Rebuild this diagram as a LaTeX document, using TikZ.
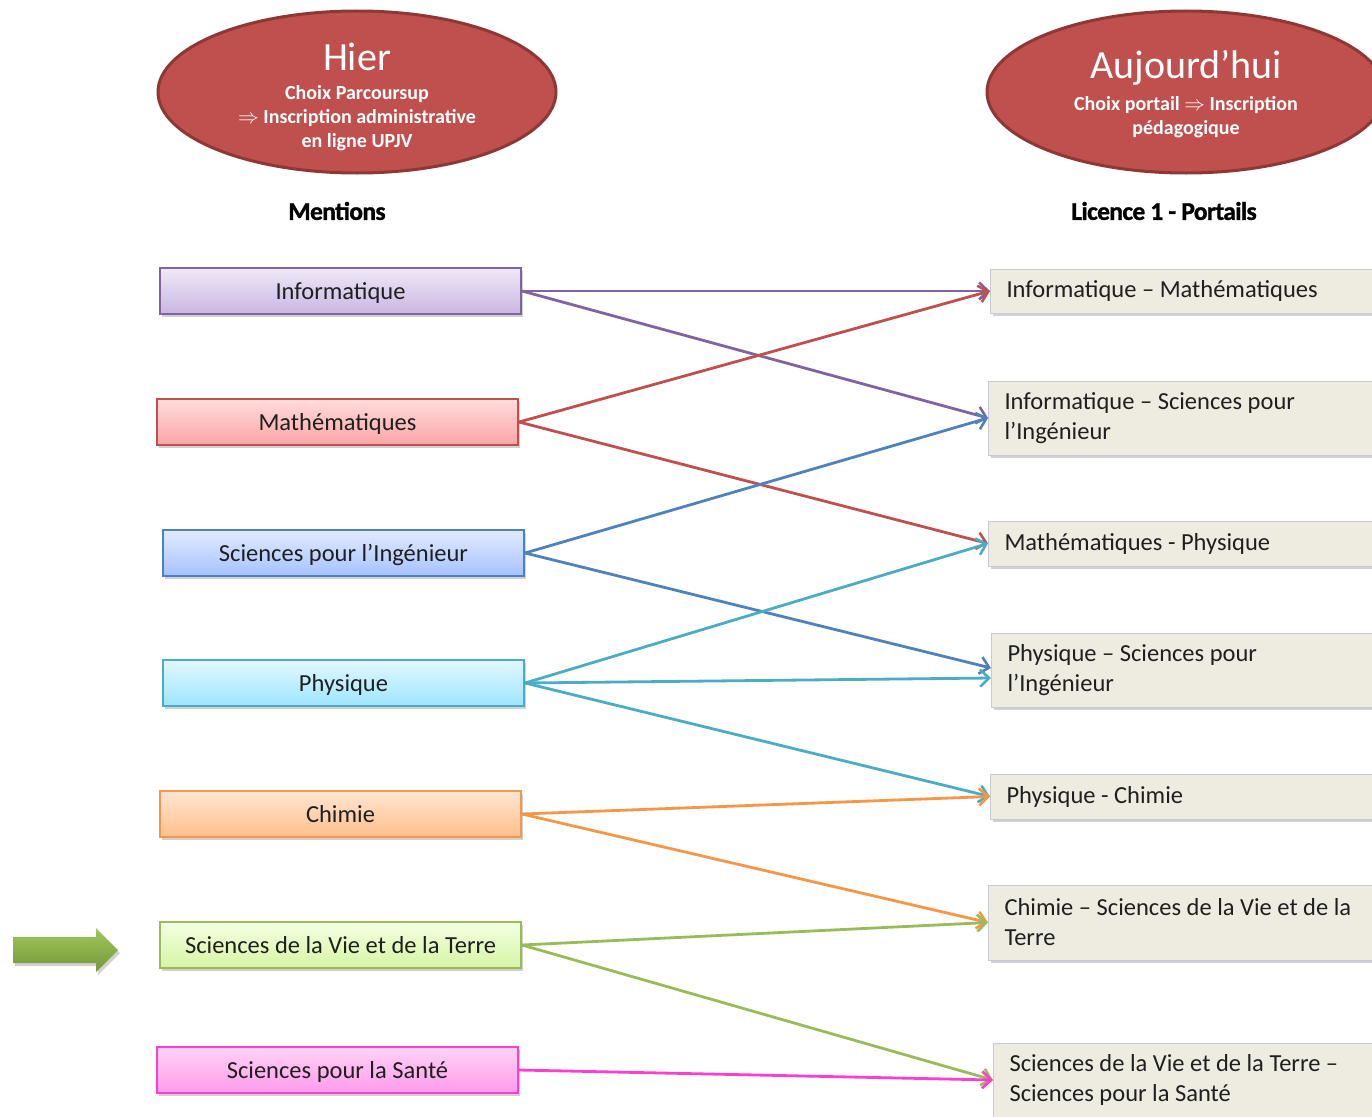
\documentclass[tikz,border=0pt]{standalone}
\usepackage{fontspec}
\setmainfont{Carlito}
\newfontfamily\hdrfont[FakeBold=1.2,LetterSpace=-2.5]{Carlito Bold}
\usetikzlibrary{shapes.geometric,arrows.meta,shadows,calc}
\definecolor{cpurple}{HTML}{8064A2}
\definecolor{cred}{HTML}{C0504D}
\definecolor{cblue}{HTML}{4F81BD}
\definecolor{ccyan}{HTML}{4BACC6}
\definecolor{corange}{HTML}{F79646}
\definecolor{cgreen}{HTML}{9BBB59}
\definecolor{cmag}{HTML}{FF3ECF}
\definecolor{beige}{HTML}{EEECE1}
\definecolor{rborder}{HTML}{C5CCD8}
\definecolor{ellfill}{HTML}{C0504D}
\definecolor{elldraw}{HTML}{8C3836}
\definecolor{ptop}{HTML}{EFE9F7}\definecolor{pbot}{HTML}{C8B6E2}
\definecolor{rtop}{HTML}{FFDCDC}\definecolor{rbot}{HTML}{FAA5A5}
\definecolor{btop}{HTML}{E1EBFF}\definecolor{bbot}{HTML}{A5C2FF}
\definecolor{ctop}{HTML}{E3F8FF}\definecolor{cbot}{HTML}{9DE5FF}
\definecolor{otop}{HTML}{FFE6D2}\definecolor{obot}{HTML}{FFBE8C}
\definecolor{gtop}{HTML}{F3FFE1}\definecolor{gbot}{HTML}{D6F5A5}
\definecolor{mtop}{HTML}{FFD2F5}\definecolor{mbot}{HTML}{FF9BEB}
\definecolor{atop}{HTML}{A0C85A}\definecolor{abot}{HTML}{76963A}
\tikzset{
  sh/.style={drop shadow={shadow xshift=2pt,shadow yshift=-3pt,opacity=0.3,fill=black!60}},
  lbox/.style n args={3}{draw=#1,top color=#2,bottom color=#3,line width=2pt,minimum width=361pt,minimum height=46pt,sh,
    font=\fontsize{24.5}{28}\selectfont,text=black!88,inner sep=0pt,text height=20pt,text depth=4pt},
  rbox/.style={draw=rborder,line width=1pt,fill=beige,anchor=west,sh,
    text width=400pt,align=flush left,inner xsep=16pt,inner ysep=0pt,
    font=\fontsize{24.5}{30}\selectfont,text=black!88},
  conn/.style={draw=#1,line width=2.8pt,-{Straight Barb[length=9pt,width=17pt,line width=2.6pt]}},
  ell/.style={ellipse,fill=ellfill,draw=elldraw,line width=3pt,minimum width=398pt,minimum height=162pt},
  etitle/.style={text=white,font=\fontsize{40}{44}\selectfont,inner sep=0pt},
  esub/.style={text=white,font=\bfseries\fontsize{20}{24}\selectfont,align=center,inner sep=0pt},
  hdr/.style={font=\hdrfont\fontsize{25.5}{28}\selectfont,text=black,inner sep=0pt}
}
\begin{document}
\begin{tikzpicture}[x=1pt,y=-1pt]
\useasboundingbox (0,0) rectangle (1372,1116);
% ellipses
\node[ell] (hier) at (357,92) {};
\node[etitle] (hiert) at (357,57) {Hier};
\node[esub] (hiers) at (357,118) {Choix Parcoursup\\$\Rightarrow$ Inscription administrative\\en ligne UPJV};
\node[ell] (auj) at (1186,92) {};
\node[etitle] (aujt) at (1186,68) {Aujourd’hui};
\node[esub] (aujs) at (1186,117) {Choix portail $\Rightarrow$ Inscription\\pédagogique};
% headers
\node[hdr] (hl) at (337,211) {Mentions};
\node[hdr] (hr) at (1164,211) {Licence 1 - Portails};
% left boxes
\node[lbox={cpurple}{ptop}{pbot}] (inf) at (340.5,291) {Informatique};
\node[lbox={cred}{rtop}{rbot}] (mat) at (337.5,422) {Mathématiques};
\node[lbox={cblue}{btop}{bbot}] (spi) at (343.5,553) {Sciences pour l’Ingénieur};
\node[lbox={ccyan}{ctop}{cbot}] (phy) at (343.5,683) {Physique};
\node[lbox={corange}{otop}{obot}] (chi) at (340.5,814) {Chimie};
\node[lbox={cgreen}{gtop}{gbot}] (svt) at (340.5,945) {Sciences de la Vie et de la Terre};
\node[lbox={cmag}{mtop}{mbot}] (san) at (337.5,1070) {Sciences pour la Santé};
% right boxes
\node[rbox,minimum height=44pt] (rim) at (990,291) {Informatique – Mathématiques};
\node[rbox,minimum height=74pt] (ris) at (988,418) {Informatique – Sciences pour\\l’Ingénieur};
\node[rbox,minimum height=45pt] (rmp) at (988,543.5) {Mathématiques - Physique};
\node[rbox,minimum height=74pt] (rps) at (991,670) {Physique – Sciences pour\\l’Ingénieur};
\node[rbox,minimum height=45pt] (rpc) at (990,796.5) {Physique - Chimie};
\node[rbox,minimum height=75pt] (rcs) at (988,922.5) {Chimie – Sciences de la Vie et de la\\Terre};
\node[rbox,minimum height=74pt] (rss) at (993,1080) {Sciences de la Vie et de la Terre –\\Sciences pour la Santé};
% connectors
\draw[conn=cpurple] (inf.east) -- (rim.west);
\draw[conn=cpurple] (inf.east) -- (ris.west);
\draw[conn=cred] (mat.east) -- (rim.west);
\draw[conn=cred] (mat.east) -- (rmp.west);
\draw[conn=cblue] (spi.east) -- (ris.west);
\draw[conn=cblue] (spi.east) -- ($(rps.west)+(0,-2)$);
\draw[conn=ccyan] (phy.east) -- (rmp.west);
\draw[conn=ccyan] (phy.east) -- ($(rps.west)+(0,8)$);
\draw[conn=ccyan] (phy.east) -- (rpc.west);
\draw[conn=corange] (chi.east) -- (rpc.west);
\draw[conn=corange] (chi.east) -- (rcs.west);
\draw[conn=cgreen] (svt.east) -- (rcs.west);
\draw[conn=cgreen] (svt.east) -- (rss.west);
\draw[conn=cmag] (san.east) -- (rss.west);
% green block arrow
\path[top color=atop,bottom color=abot,sh]
  (13,937) -- (96,937) -- (96,928) -- (118,950) -- (96,972) -- (96,963) -- (13,963) -- cycle;
\end{tikzpicture}
\end{document}
